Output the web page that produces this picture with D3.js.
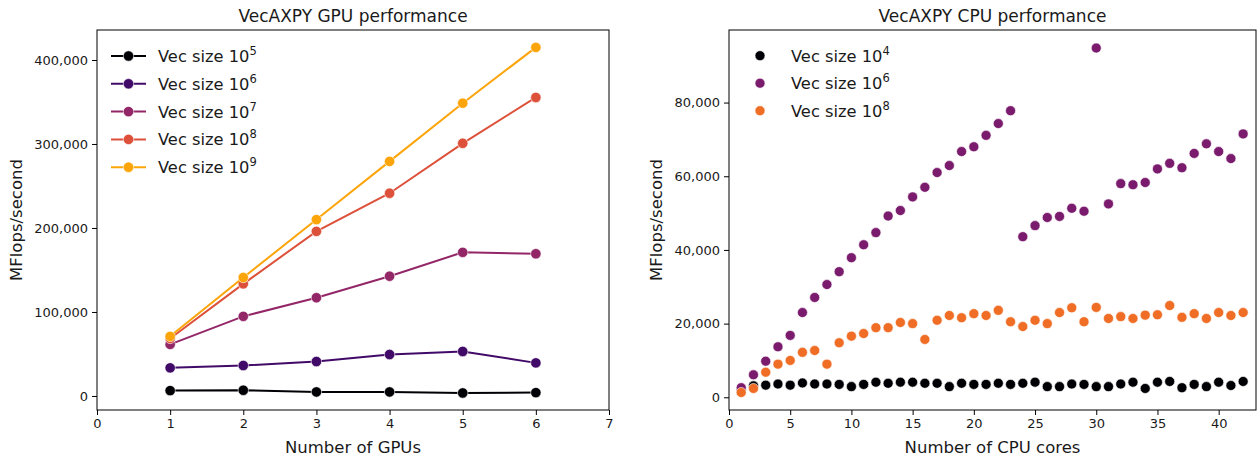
<!DOCTYPE html>
<html>
<head>
<meta charset="utf-8">
<script src="https://cdn.jsdelivr.net/npm/d3@7"></script>
<style>
  body { margin: 0; background: #fff; }
  svg { display: block; }
  text { font-family: "DejaVu Sans", sans-serif; fill: #1a1a1a; }
</style>
</head>
<body>
<svg id="chart" width="1258" height="459"></svg>
<script>
// ---- GPU benchmark: MFlops/second vs number of GPUs ----
const gpuCounts = [1, 2, 3, 4, 5, 6];
const gpuExponents = [5, 6, 7, 8, 9];
const gpuVec1e5 = [6400, 6800, 4800, 4800, 3600, 4000];
const gpuVec1e6 = [33500, 36300, 41000, 49400, 53000, 39400];
const gpuVec1e7 = [61400, 94800, 117000, 142600, 171000, 169300];
const gpuVec1e8 = [68500, 133500, 196000, 241400, 300800, 355400];
const gpuVec1e9 = [71000, 141000, 210000, 279300, 348600, 415000];
const gpuColors = ["#000004", "#420a68", "#932667", "#dd513a", "#fca50a"];
const gpuXTicks = [0, 1, 2, 3, 4, 5, 6, 7];
const gpuYTicks = [0, 100000, 200000, 300000, 400000];

// ---- CPU benchmark: MFlops/second vs number of CPU cores ----
const cpuCores = d3.range(1, 43);
const cpuExponents = [4, 6, 8];
const cpuVec1e4 = [2000, 3100, 3300, 3600, 3300, 3900, 3600, 3600, 3500, 2900,
  3500, 4100, 3800, 4100, 4100, 3800, 3800, 2900, 3800, 3500,
  3500, 3800, 3500, 3800, 4100, 2900, 2900, 3600, 3500, 2900,
  2900, 3600, 4100, 2400, 4100, 4300, 2600, 3500, 2900, 4100,
  3200, 4300];
const cpuVec1e6 = [2600, 6100, 9800, 13700, 16800, 23000, 27100, 30600, 34100, 37900,
  41400, 44700, 49200, 50700, 54400, 57000, 61000, 62900, 66700, 68000,
  71100, 74300, 77800, 43600, 46600, 48800, 49100, 51300, 50500, 94800,
  52500, 58000, 57700, 58300, 62000, 63500, 62300, 66200, 68800, 66700,
  64800, 71500];
const cpuVec1e8 = [1300, 2400, 6800, 9000, 10000, 12200, 12700, 9000, 14800, 16600,
  17300, 18900, 18900, 20300, 20000, 15700, 20900, 22200, 21600, 22700,
  22200, 23600, 20500, 19200, 20900, 20000, 23000, 24300, 20500, 24400,
  21400, 21900, 21400, 22300, 22400, 24900, 21700, 22700, 21400, 23000,
  22200, 23000];
const cpuColors = ["#000004", "#7a1b6d", "#ef6d25"];
const cpuXTicks = [0, 5, 10, 15, 20, 25, 30, 35, 40];
const cpuYTicks = [0, 20000, 40000, 60000, 80000];

const svg = d3.select("#chart");
const fmt = d3.format(",");

function drawFrame(g, x, y, xTicks, yTicks, title, xLabel, yLabel, yLabelX) {
  const [x0, x1] = x.range();
  const [y0, y1] = y.range();
  const xAxis = g.append("g").attr("transform", `translate(0,${y0})`)
    .call(d3.axisBottom(x).tickValues(xTicks).tickFormat(d3.format("d")).tickSizeOuter(0).tickSize(5).tickPadding(4));
  const yAxis = g.append("g").attr("transform", `translate(${x0},0)`)
    .call(d3.axisLeft(y).tickValues(yTicks).tickFormat(fmt).tickSizeOuter(0).tickSize(5).tickPadding(4));
  [xAxis, yAxis].forEach(a => {
    a.select(".domain").remove();
    a.selectAll(".tick line").attr("stroke", "#000").attr("stroke-width", 1);
    a.selectAll(".tick text").style("font-size", "13px").style("font-family", "DejaVu Sans, sans-serif").attr("fill", "#1a1a1a");
  });
  g.append("rect").attr("x", x0).attr("y", y1).attr("width", x1 - x0).attr("height", y0 - y1)
    .attr("fill", "none").attr("stroke", "#000").attr("stroke-width", 1);
  const cx = (x0 + x1) / 2;
  g.append("text").attr("x", cx).attr("y", 21.5).attr("text-anchor", "middle")
    .style("font-size", "17px").text(title);
  g.append("text").attr("x", cx).attr("y", 452.5).attr("text-anchor", "middle")
    .style("font-size", "16.5px").text(xLabel);
  g.append("text").attr("transform", `translate(${yLabelX},${(y0 + y1) / 2}) rotate(-90)`)
    .attr("text-anchor", "middle").style("font-size", "16.5px").text(yLabel);
}

function legendLabel(sel, exp) {
  sel.append("tspan").text("Vec size 10");
  sel.append("tspan").attr("dy", -7).style("font-size", "11.5px").text(exp);
}

// ---------- Left panel: GPU ----------
{
  const g = svg.append("g");
  const x = d3.scaleLinear().domain([0, 7]).range([97, 609]);
  const y = d3.scaleLinear().domain([-16700, 435700]).range([410, 30]);
  drawFrame(g, x, y, gpuXTicks, gpuYTicks, "VecAXPY GPU performance", "Number of GPUs", "MFlops/second", 22);

  const series = [gpuVec1e5, gpuVec1e6, gpuVec1e7, gpuVec1e8, gpuVec1e9];
  const line = d3.line().x((d, i) => x(gpuCounts[i])).y(d => y(d));
  series.forEach((vals, k) => {
    const s = g.append("g");
    s.append("path").datum(vals).attr("d", line).attr("fill", "none")
      .attr("stroke", gpuColors[k]).attr("stroke-width", 2);
    s.selectAll("circle").data(vals).join("circle")
      .attr("cx", (d, i) => x(gpuCounts[i])).attr("cy", d => y(d)).attr("r", 5.2)
      .attr("fill", gpuColors[k]).attr("stroke", "#fff").attr("stroke-width", 0.6);
  });

  const leg = g.append("g");
  gpuExponents.forEach((e, k) => {
    const ry = 56 + k * 27.8;
    leg.append("line").attr("x1", 111).attr("x2", 146).attr("y1", ry).attr("y2", ry)
      .attr("stroke", gpuColors[k]).attr("stroke-width", 2);
    leg.append("circle").attr("cx", 128.5).attr("cy", ry).attr("r", 5.2)
      .attr("fill", gpuColors[k]).attr("stroke", "#fff").attr("stroke-width", 0.6);
    leg.append("text").attr("x", 158).attr("y", ry + 6).style("font-size", "16.3px")
      .call(legendLabel, e);
  });
}

// ---------- Right panel: CPU ----------
{
  const g = svg.append("g");
  const x = d3.scaleLinear().domain([0, 43.05]).range([729, 1256]);
  const y = d3.scaleLinear().domain([-3450, 99700]).range([410, 30]);
  drawFrame(g, x, y, cpuXTicks, cpuYTicks, "VecAXPY CPU performance", "Number of CPU cores", "MFlops/second", 662);

  const series = [cpuVec1e4, cpuVec1e6, cpuVec1e8];
  series.forEach((vals, k) => {
    g.append("g").selectAll("circle").data(vals).join("circle")
      .attr("cx", (d, i) => x(cpuCores[i])).attr("cy", d => y(d)).attr("r", 5)
      .attr("fill", cpuColors[k]).attr("stroke", "#fff").attr("stroke-width", 0.6);
  });

  const leg = g.append("g");
  cpuExponents.forEach((e, k) => {
    const ry = 55.7 + k * 27.5;
    leg.append("circle").attr("cx", 760).attr("cy", ry).attr("r", 5)
      .attr("fill", cpuColors[k]).attr("stroke", "#fff").attr("stroke-width", 0.6);
    leg.append("text").attr("x", 791).attr("y", ry + 6).style("font-size", "16.3px")
      .call(legendLabel, e);
  });
}
</script>
</body>
</html>
